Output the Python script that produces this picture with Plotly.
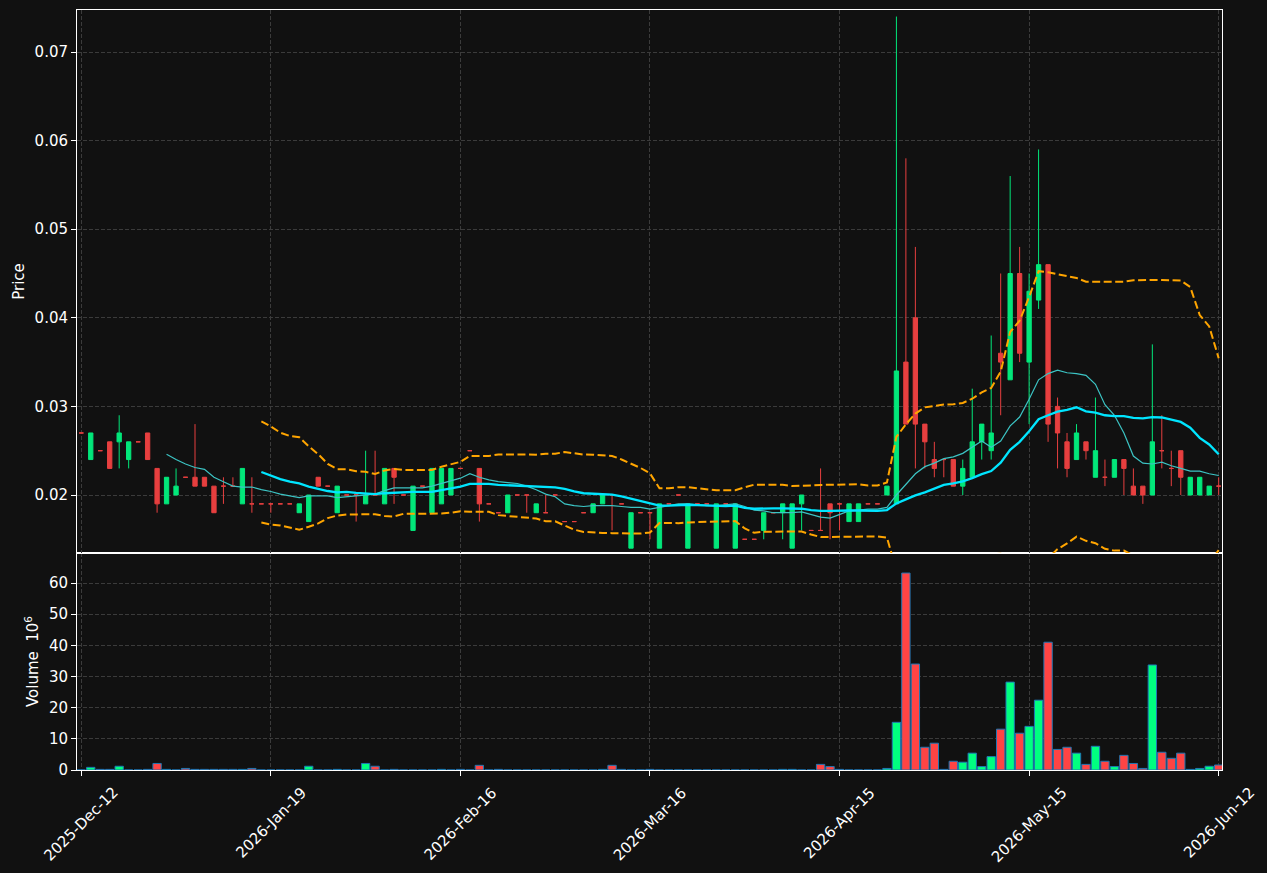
import plotly.graph_objects as go
import pandas as pd

# ---------------- data ----------------
tick_idx = [0, 20, 40, 60, 80, 100, 120]
tick_labels = ['2025-Dec-12', '2026-Jan-19', '2026-Feb-16', '2026-Mar-16',
               '2026-Apr-15', '2026-May-15', '2026-Jun-12']

opens = [
    0.027, 0.024, 0.025, 0.026, 0.026, 0.024, 0.026, 0.027, 0.023, 0.019,
    0.020, 0.022, 0.022, 0.022, 0.021, 0.021, 0.021, 0.019, 0.019, 0.019,
    0.019, 0.019, 0.019, 0.018, 0.017, 0.022, 0.021, 0.018, 0.020, 0.020,
    0.019, 0.020, 0.019, 0.023, 0.020, 0.016, 0.021, 0.018, 0.019, 0.020,
    0.023, 0.025, 0.023, 0.019, 0.018, 0.018, 0.020, 0.020, 0.018, 0.018,
    0.020, 0.017, 0.017, 0.018, 0.018, 0.019, 0.020, 0.019, 0.014, 0.018,
    0.018, 0.014, 0.019, 0.020, 0.014, 0.019, 0.019, 0.014, 0.019, 0.014,
    0.015, 0.015, 0.016, 0.018, 0.018, 0.014, 0.019, 0.016, 0.016, 0.019,
    0.019, 0.017, 0.017, 0.019, 0.019, 0.020, 0.019, 0.035, 0.040, 0.028,
    0.024, 0.024, 0.024, 0.021, 0.022, 0.026, 0.025, 0.036, 0.033, 0.045,
    0.035, 0.042, 0.046, 0.030, 0.026, 0.024, 0.026, 0.022, 0.022, 0.022,
    0.024, 0.021, 0.021, 0.020, 0.025, 0.023, 0.025, 0.020, 0.020, 0.020,
    0.021,
]
highs = [
    0.027, 0.027, 0.025, 0.026, 0.029, 0.026, 0.026, 0.027, 0.023, 0.022,
    0.023, 0.022, 0.028, 0.022, 0.021, 0.022, 0.022, 0.023, 0.022, 0.019,
    0.019, 0.019, 0.019, 0.019, 0.020, 0.022, 0.021, 0.021, 0.020, 0.020,
    0.025, 0.025, 0.023, 0.023, 0.020, 0.021, 0.021, 0.023, 0.023, 0.023,
    0.023, 0.025, 0.023, 0.019, 0.018, 0.020, 0.020, 0.020, 0.019, 0.020,
    0.020, 0.017, 0.017, 0.018, 0.019, 0.020, 0.020, 0.019, 0.018, 0.018,
    0.018, 0.019, 0.019, 0.020, 0.019, 0.019, 0.019, 0.019, 0.019, 0.019,
    0.015, 0.015, 0.018, 0.018, 0.019, 0.019, 0.020, 0.016, 0.023, 0.019,
    0.019, 0.019, 0.019, 0.019, 0.019, 0.021, 0.074, 0.058, 0.048, 0.028,
    0.026, 0.024, 0.024, 0.024, 0.032, 0.028, 0.038, 0.045, 0.056, 0.048,
    0.045, 0.059, 0.046, 0.031, 0.027, 0.028, 0.026, 0.031, 0.024, 0.024,
    0.024, 0.023, 0.021, 0.037, 0.029, 0.025, 0.025, 0.022, 0.022, 0.021,
    0.022,
]
lows = [
    0.027, 0.024, 0.025, 0.023, 0.023, 0.023, 0.026, 0.024, 0.018, 0.019,
    0.020, 0.022, 0.021, 0.021, 0.018, 0.019, 0.021, 0.019, 0.018, 0.019,
    0.018, 0.019, 0.019, 0.018, 0.017, 0.021, 0.021, 0.018, 0.020, 0.017,
    0.019, 0.020, 0.019, 0.019, 0.020, 0.016, 0.021, 0.018, 0.019, 0.020,
    0.023, 0.025, 0.017, 0.019, 0.018, 0.018, 0.020, 0.018, 0.018, 0.018,
    0.020, 0.017, 0.017, 0.018, 0.018, 0.019, 0.016, 0.019, 0.014, 0.018,
    0.015, 0.014, 0.019, 0.020, 0.014, 0.019, 0.019, 0.014, 0.019, 0.014,
    0.015, 0.015, 0.015, 0.018, 0.015, 0.014, 0.016, 0.016, 0.016, 0.015,
    0.016, 0.017, 0.017, 0.019, 0.019, 0.020, 0.019, 0.028, 0.023, 0.023,
    0.022, 0.022, 0.021, 0.020, 0.022, 0.024, 0.024, 0.029, 0.033, 0.035,
    0.028, 0.041, 0.026, 0.023, 0.022, 0.024, 0.024, 0.022, 0.021, 0.022,
    0.020, 0.020, 0.019, 0.020, 0.023, 0.021, 0.020, 0.020, 0.020, 0.020,
    0.020,
]
closes = [
    0.027, 0.027, 0.025, 0.023, 0.027, 0.026, 0.026, 0.024, 0.019, 0.022,
    0.021, 0.022, 0.021, 0.021, 0.018, 0.021, 0.021, 0.023, 0.019, 0.019,
    0.019, 0.019, 0.019, 0.019, 0.020, 0.021, 0.021, 0.021, 0.020, 0.020,
    0.020, 0.020, 0.023, 0.022, 0.020, 0.021, 0.021, 0.023, 0.023, 0.023,
    0.023, 0.025, 0.019, 0.019, 0.018, 0.020, 0.020, 0.020, 0.019, 0.018,
    0.020, 0.017, 0.017, 0.018, 0.019, 0.020, 0.020, 0.019, 0.018, 0.018,
    0.018, 0.019, 0.019, 0.020, 0.019, 0.019, 0.019, 0.019, 0.019, 0.019,
    0.015, 0.015, 0.018, 0.018, 0.019, 0.019, 0.020, 0.016, 0.016, 0.018,
    0.019, 0.019, 0.019, 0.019, 0.019, 0.021, 0.034, 0.028, 0.028, 0.026,
    0.023, 0.024, 0.021, 0.023, 0.026, 0.028, 0.027, 0.035, 0.045, 0.036,
    0.043, 0.046, 0.028, 0.027, 0.023, 0.027, 0.025, 0.025, 0.022, 0.024,
    0.023, 0.020, 0.020, 0.026, 0.025, 0.023, 0.022, 0.022, 0.022, 0.021,
    0.021,
]
volumes = [  # millions
    0.0, 0.85, 0.2, 0.2, 1.2, 0.0, 0.0, 0.2, 2.1, 0.2,
    0.0, 0.5, 0.2, 0.2, 0.2, 0.2, 0.2, 0.2, 0.5, 0.0,
    0.0, 0.0, 0.0, 0.0, 1.2, 0.0, 0.0, 0.2, 0.0, 0.0,
    2.1, 1.2, 0.0, 0.2, 0.0, 0.0, 0.0, 0.0, 0.2, 0.0,
    0.2, 0.0, 1.5, 0.0, 0.2, 0.0, 0.0, 0.0, 0.0, 0.0,
    0.0, 0.0, 0.0, 0.0, 0.0, 0.2, 1.5, 0.2, 0.0, 0.0,
    0.2, 0.0, 0.0, 0.0, 0.0, 0.0, 0.0, 0.0, 0.0, 0.0,
    0.0, 0.0, 0.0, 0.0, 0.2, 0.2, 0.0, 0.0, 1.8, 1.1,
    0.2, 0.0, 0.0, 0.0, 0.0, 0.5, 15.3, 63.2, 34.0, 7.3,
    8.6, 0.2, 2.8, 2.5, 5.4, 1.1, 4.3, 13.1, 28.2, 11.8,
    14.0, 22.4, 41.0, 6.6, 7.3, 5.4, 1.8, 7.6, 2.8, 1.1,
    4.7, 2.1, 0.5, 33.7, 5.7, 3.75, 5.4, 0.2, 0.5, 1.2,
    1.6,
]

# ---------------- styling ----------------
BG = '#111111'
GRID = '#3b3b3b'
UP_VOL, DN_VOL = '#00ff80', '#ff4444'
UP_C, DN_C = '#02e77a', '#e73f3f'   # 0.9 alpha over background
FONT = 'DejaVu Sans'
FS = 15

n = len(closes)
xs = list(range(n))
s = pd.Series(closes)
ma10 = s.rolling(10).mean()
ma20 = s.rolling(20).mean()
sd20 = s.rolling(20).std(ddof=0)
bb_up = ma20 + 2 * sd20
bb_lo = ma20 - 2 * sd20

fig = go.Figure()

up_idx = [i for i in xs if closes[i] > opens[i]]
dn_idx = [i for i in xs if closes[i] <= opens[i]]
for idx, col in ((up_idx, UP_C), (dn_idx, DN_C)):
    fig.add_trace(go.Candlestick(
        x=idx,
        open=[opens[i] for i in idx], high=[highs[i] for i in idx],
        low=[lows[i] for i in idx], close=[closes[i] for i in idx],
        increasing=dict(line=dict(color=col, width=1), fillcolor=col),
        decreasing=dict(line=dict(color=col, width=1), fillcolor=col),
        whiskerwidth=0, xaxis='x2', yaxis='y', showlegend=False, hoverinfo='skip'))

fig.add_trace(go.Scatter(x=xs, y=ma10, mode='lines', line=dict(color='#3cc4c4', width=1.2),
                         xaxis='x2', yaxis='y', showlegend=False, hoverinfo='skip'))
fig.add_trace(go.Scatter(x=xs, y=ma20, mode='lines', line=dict(color='#00e5ff', width=2.3),
                         xaxis='x2', yaxis='y', showlegend=False, hoverinfo='skip'))
for band in (bb_up, bb_lo):
    fig.add_trace(go.Scatter(x=xs, y=band, mode='lines',
                             line=dict(color='#ffa500', width=2, dash='8px,3.5px'),
                             xaxis='x2', yaxis='y', showlegend=False, hoverinfo='skip'))

vcolors = [UP_VOL if closes[i] > opens[i] else DN_VOL for i in xs]
fig.add_trace(go.Bar(x=xs, y=volumes, width=0.88,
                     marker=dict(color=vcolors, line=dict(color='#1f77b4', width=1)),
                     xaxis='x', yaxis='y2', showlegend=False, hoverinfo='skip'))

split = 217 / 760
axis_common = dict(showline=True, linecolor='white', linewidth=1, mirror=True,
                   showgrid=True, gridcolor=GRID, griddash='4px,2px', gridwidth=1,
                   zeroline=False)

fig.update_layout(
    width=1267, height=873, autosize=False,
    margin=dict(l=77, r=45, t=10, b=103),
    paper_bgcolor=BG, plot_bgcolor=BG,
    font=dict(family=FONT, color='white', size=FS),
    boxgap=0.35, boxgroupgap=0.3,
    xaxis=dict(domain=[0, 1], anchor='y2', range=[-0.45, 120.35],
               tickvals=tick_idx, showticklabels=False,
               ticks='outside', ticklen=5, tickcolor='white',
               rangeslider=dict(visible=False), **axis_common),
    xaxis2=dict(matches='x', anchor='y', range=[-0.45, 120.35],
                tickvals=tick_idx, showticklabels=False, ticks='',
                rangeslider=dict(visible=False), **axis_common),
    yaxis=dict(domain=[split, 1], anchor='x2', range=[0.013454, 0.07474],
               tickvals=[0.02, 0.03, 0.04, 0.05, 0.06, 0.07], tickformat='.2f',
               ticks='outside', ticklen=5, tickcolor='white',
               title=dict(text='Price', standoff=6, font=dict(size=FS)), **axis_common),
    yaxis2=dict(domain=[0, split], anchor='x', range=[0, 69.63],
                tickvals=[0, 10, 20, 30, 40, 50, 60],
                ticks='outside', ticklen=5, tickcolor='white',
                title=dict(text='Volume  10<sup>6</sup>', standoff=6, font=dict(size=FS)),
                **axis_common),
)

for xi, lab in zip(tick_idx, tick_labels):
    fig.add_annotation(x=xi, xref='x', y=0, yref='paper', text=lab, showarrow=False,
                       textangle=-45, xanchor='center', yanchor='top', yshift=-11,
                       font=dict(size=FS, color='white', family=FONT))

fig.write_html('out.html')
